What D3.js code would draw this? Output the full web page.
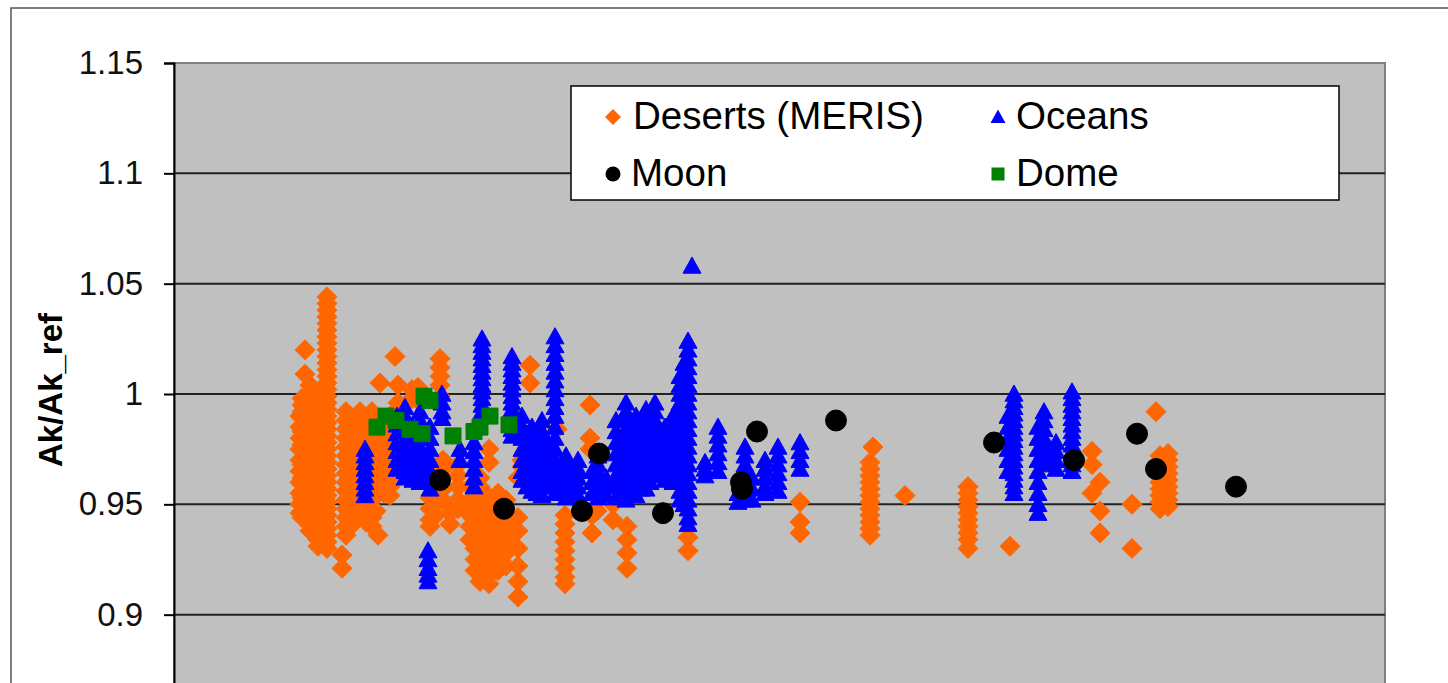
<!DOCTYPE html>
<html>
<head>
<meta charset="utf-8">
<script src="https://cdn.jsdelivr.net/npm/d3@7"></script>
<style>
  html, body { margin: 0; padding: 0; background: #fff; overflow: hidden; }
  svg { display: block; font-family: "Liberation Sans", Arial, sans-serif; }
</style>
</head>
<body>
<svg id="chart" width="1448" height="683"></svg>
<script>
// ---- data -------------------------------------------------------------
// x: acquisition day, y: Ak/Ak_ref

const yTickValues = [0.9, 0.95, 1.0, 1.05, 1.1, 1.15];
const yTickLabels = ["0.9", "0.95", "1", "1.05", "1.1", "1.15"];

// Deserts (MERIS): [day, [ratios...]]
const desertCols = [
  [131, [1.020, 1.009]],
  [126, [0.990, 0.985, 0.980, 0.975, 0.970, 0.965, 0.960, 0.955, 0.950, 0.946]],
  [128, [0.998, 0.995, 0.992, 0.989, 0.986, 0.983, 0.980, 0.977, 0.974, 0.971, 0.968, 0.965, 0.962, 0.959, 0.956, 0.953, 0.950, 0.947, 0.944]],
  [136, [1.004, 1.001, 0.998, 0.995, 0.992, 0.989, 0.986, 0.983, 0.980, 0.977, 0.974, 0.971, 0.968, 0.965, 0.962, 0.959, 0.956, 0.953, 0.950, 0.947, 0.944, 0.941, 0.938]],
  [144, [1.000, 0.997, 0.994, 0.991, 0.988, 0.985, 0.982, 0.979, 0.976, 0.973, 0.970, 0.967, 0.964, 0.961, 0.958, 0.955, 0.952, 0.949, 0.946, 0.943, 0.940, 0.937, 0.934, 0.931]],
  [153, [1.044, 1.041, 1.038, 1.035, 1.032, 1.029, 1.026, 1.023, 1.020, 1.017, 1.014, 1.011, 1.008, 1.005, 1.002, 0.999, 0.996, 0.993, 0.990, 0.987, 0.984, 0.981, 0.978, 0.975, 0.972, 0.969, 0.966, 0.963, 0.960, 0.957, 0.954, 0.951, 0.948, 0.945, 0.942, 0.939, 0.936, 0.933, 0.930]],
  [168, [0.921, 0.927]],
  [172, [0.992, 0.988, 0.984, 0.980, 0.976, 0.972, 0.968, 0.964, 0.960, 0.956, 0.952, 0.948, 0.944, 0.940, 0.936]],
  [176, [0.984, 0.978, 0.972, 0.966, 0.960, 0.954, 0.948, 0.943]],
  [179, [0.986, 0.981, 0.976, 0.971, 0.966, 0.961, 0.956, 0.951, 0.946, 0.941]],
  [182, [0.990, 0.983, 0.975, 0.968, 0.962, 0.955, 0.949]],
  [186, [0.992, 0.988, 0.984, 0.980, 0.976, 0.972, 0.968, 0.964, 0.960, 0.956, 0.952, 0.948]],
  [192, [0.985, 0.980, 0.952, 0.947, 0.942]],
  [198, [0.992, 0.988, 0.984, 0.980, 0.976, 0.972, 0.968, 0.964, 0.960, 0.956, 0.952, 0.948, 0.944, 0.940]],
  [202, [0.982, 0.975, 0.968, 0.961, 0.954, 0.947]],
  [204, [0.936]],
  [206, [1.005]],
  [210, [0.984, 0.979, 0.974, 0.969, 0.964, 0.959, 0.955]],
  [221, [1.017]],
  [224, [1.004, 0.996]],
  [216, [0.990, 0.986, 0.982, 0.978, 0.974, 0.970, 0.966, 0.962, 0.958, 0.954]],
  [238, [1.002, 0.998, 0.975, 0.970]],
  [244, [1.003, 0.997]],
  [266, [1.016, 1.012, 1.008, 1.004, 0.999]],
  [256, [0.953, 0.948, 0.943, 0.940]],
  [262, [0.950, 0.945]],
  [269, [0.970, 0.966, 0.962, 0.957, 0.952]],
  [276, [0.946, 0.941]],
  [284, [0.968, 0.963, 0.958, 0.952, 0.948]],
  [296, [0.958, 0.952, 0.945, 0.940, 0.934]],
  [301, [0.930, 0.925, 0.920]],
  [306, [0.962, 0.958, 0.954, 0.950, 0.946, 0.942, 0.938, 0.934, 0.930, 0.926, 0.922, 0.918, 0.915]],
  [311, [0.955, 0.948, 0.941, 0.934, 0.927, 0.920]],
  [315, [0.975, 0.969, 0.950, 0.946, 0.942, 0.938, 0.934, 0.930, 0.926, 0.922, 0.918, 0.914]],
  [319, [0.952, 0.944, 0.936, 0.928, 0.921]],
  [324, [0.955, 0.950, 0.945, 0.940, 0.935, 0.930, 0.925, 0.920]],
  [328, [0.948, 0.940, 0.932, 0.924]],
  [332, [0.952, 0.946, 0.940, 0.934, 0.928, 0.922]],
  [344, [0.962, 0.944, 0.938, 0.930, 0.922, 0.915, 0.908]],
  [348, [0.970, 0.967]],
  [356, [1.013, 1.005]],
  [383, [0.984]],
  [391, [0.945, 0.941, 0.937, 0.933, 0.929, 0.925, 0.921, 0.917, 0.914]],
  [416, [0.995, 0.980, 0.975]],
  [418, [0.945, 0.937]],
  [423, [0.947]],
  [439, [0.943, 0.950]],
  [453, [0.940, 0.934, 0.928, 0.921]],
  [514, [0.935, 0.929]],
  [626, [0.951, 0.942, 0.937]],
  [699, [0.976]],
  [696, [0.969, 0.966, 0.963, 0.960, 0.957, 0.954, 0.951, 0.948, 0.945, 0.942, 0.939, 0.936]],
  [731, [0.954]],
  [794, [0.958, 0.955, 0.952, 0.949, 0.946, 0.943, 0.940, 0.937, 0.934, 0.930]],
  [836, [0.931]],
  [918, [0.974, 0.968, 0.955]],
  [926, [0.960, 0.947, 0.937]],
  [958, [0.950, 0.930]],
  [982, [0.992]],
  [986, [0.972, 0.969, 0.966, 0.963, 0.960, 0.957, 0.954, 0.951, 0.948]],
  [994, [0.973, 0.970, 0.967, 0.964, 0.961, 0.958, 0.955, 0.952, 0.949]]
];

// Oceans: [day, [ratios...]]
const oceanCols = [
  [191, [0.975, 0.972, 0.969, 0.966, 0.963, 0.960, 0.957, 0.954]],
  [254, [0.929, 0.925, 0.921, 0.918, 0.915]],
  [223, [0.990, 0.986, 0.982, 0.978, 0.974, 0.970, 0.966]],
  [231, [0.994, 0.990, 0.985, 0.980, 0.975, 0.970, 0.965, 0.962]],
  [239, [0.985, 0.980, 0.975, 0.970, 0.965, 0.961]],
  [246, [0.992, 0.988, 0.984, 0.980, 0.976, 0.972, 0.968, 0.964, 0.960]],
  [256, [0.985, 0.980, 0.975, 0.970, 0.965, 0.960, 0.957]],
  [268, [1.000, 0.996, 0.992, 0.989]],
  [286, [0.975, 0.970]],
  [300, [0.978, 0.974, 0.970, 0.966, 0.962, 0.958]],
  [308, [1.025, 1.022, 1.019, 1.016, 1.013, 1.010, 1.007, 1.004, 1.001, 0.998, 0.995, 0.992]],
  [338, [1.017, 1.014, 1.011, 1.008, 1.005, 1.002, 0.999, 0.996, 0.993, 0.990, 0.987, 0.984, 0.981]],
  [348, [0.990, 0.985, 0.980, 0.975, 0.970, 0.965, 0.961]],
  [353, [0.982, 0.977, 0.972, 0.967, 0.962, 0.958]],
  [358, [0.985, 0.980, 0.975, 0.970, 0.965, 0.960, 0.956]],
  [363, [0.980, 0.975, 0.970, 0.965, 0.960, 0.955]],
  [368, [0.988, 0.983, 0.978, 0.973, 0.968, 0.963, 0.958, 0.954]],
  [374, [0.978, 0.973, 0.968, 0.963, 0.958]],
  [381, [1.026, 1.022, 1.018, 1.014, 1.010, 1.006, 1.002, 0.998, 0.994, 0.990, 0.985, 0.980, 0.975, 0.970, 0.965, 0.960, 0.955]],
  [387, [0.968, 0.963, 0.958]],
  [392, [0.972, 0.968, 0.964, 0.960, 0.956, 0.953]],
  [398, [0.962, 0.957]],
  [404, [0.970, 0.966, 0.962, 0.958, 0.954]],
  [418, [0.965, 0.960, 0.955]],
  [424, [0.972, 0.968, 0.964, 0.960, 0.956, 0.953]],
  [432, [0.962, 0.958, 0.954]],
  [442, [0.988, 0.983, 0.978, 0.973, 0.968, 0.963, 0.958, 0.953]],
  [447, [0.980, 0.975, 0.970, 0.965, 0.960, 0.955]],
  [452, [0.996, 0.992, 0.988, 0.984, 0.980, 0.976, 0.972, 0.968, 0.964, 0.960, 0.956, 0.952]],
  [457, [0.985, 0.980, 0.975, 0.970, 0.965, 0.960, 0.955]],
  [462, [0.990, 0.986, 0.982, 0.978, 0.974, 0.970, 0.966, 0.962, 0.958, 0.954]],
  [467, [0.982, 0.977, 0.972, 0.967, 0.962, 0.957]],
  [472, [0.993, 0.989, 0.985, 0.981, 0.977, 0.973, 0.969, 0.965, 0.961, 0.957]],
  [476, [0.985, 0.980, 0.975, 0.970, 0.965, 0.960]],
  [481, [0.996, 0.992, 0.988, 0.984, 0.980, 0.976, 0.972, 0.968, 0.964]],
  [486, [0.978, 0.973, 0.968, 0.963]],
  [491, [0.985, 0.981, 0.977, 0.973, 0.969, 0.965, 0.961]],
  [499, [0.990, 0.985, 0.980, 0.975, 0.970, 0.965, 0.960]],
  [506, [1.008, 1.004, 1.000, 0.996, 0.992, 0.988, 0.984, 0.980, 0.976, 0.972, 0.968, 0.964, 0.960, 0.956, 0.952]],
  [510, [1.014, 1.010, 1.000, 0.990, 0.980, 0.970, 0.960, 0.950]],
  [514, [1.024, 1.020, 1.016, 1.012, 1.008, 1.004, 1.000, 0.996, 0.992, 0.988, 0.984, 0.980, 0.976, 0.972, 0.968, 0.964, 0.960, 0.956, 0.952, 0.948, 0.944, 0.941]],
  [518, [1.058]],
  [531, [0.969, 0.966, 0.963]],
  [544, [0.985, 0.981, 0.977, 0.973, 0.969, 0.965]],
  [571, [0.976, 0.972, 0.968, 0.964, 0.960, 0.956, 0.952]],
  [564, [0.955, 0.951]],
  [578, [0.962, 0.957, 0.952]],
  [591, [0.970, 0.966, 0.962, 0.958, 0.955]],
  [604, [0.976, 0.972, 0.968, 0.964, 0.960, 0.956]],
  [626, [0.978, 0.974, 0.970, 0.966]],
  [834, [0.990, 0.985, 0.980, 0.975, 0.970, 0.965]],
  [840, [1.000, 0.997, 0.994, 0.991, 0.988, 0.985, 0.982, 0.979, 0.976, 0.973, 0.970, 0.967, 0.964, 0.961, 0.958, 0.955]],
  [864, [0.985, 0.980, 0.975, 0.970, 0.965, 0.960, 0.955, 0.950, 0.946]],
  [870, [0.992, 0.988, 0.984, 0.980, 0.976, 0.972, 0.968]],
  [882, [0.978, 0.974, 0.970, 0.966]],
  [898, [1.001, 0.998, 0.995, 0.992, 0.989, 0.986, 0.983, 0.980, 0.977, 0.974, 0.971, 0.968, 0.965]]
];

// Moon: [day, ratio]
const moonPoints = [
  [266, 0.961], [330, 0.948], [408, 0.947], [425, 0.973], [489, 0.946],
  [567, 0.960], [568, 0.957], [583, 0.983], [662, 0.988], [820, 0.978],
  [900, 0.970], [963, 0.982], [982, 0.966], [1062, 0.958]
];

// Dome: [day, ratio]
const domePoints = [
  [203, 0.985], [212, 0.990], [222, 0.988], [236, 0.984], [248, 0.982],
  [250, 0.999], [256, 0.997], [279, 0.981], [300, 0.983], [306, 0.985],
  [316, 0.990], [335, 0.986]
];

const seriesNames = ["Deserts (MERIS)", "Oceans", "Moon", "Dome"];
const seriesColors = ["#FF6600", "#0000FF", "#000000", "#008000"];

// ---- layout -----------------------------------------------------------
const plot = { left: 174, top: 63, right: 1385, bottom: 725 };

const svg = d3.select("#chart");

const x = d3.scaleLinear().domain([0, 1211]).range([plot.left, plot.right]);
const y = d3.scaleLinear().domain([0.85, 1.15]).range([plot.bottom, plot.top]);

// marker shapes (size = half-width in px)
const diamond = { draw(ctx, s) { ctx.moveTo(0, -s); ctx.lineTo(s, 0); ctx.lineTo(0, s); ctx.lineTo(-s, 0); ctx.closePath(); } };
const triangle = { draw(ctx, s) { ctx.moveTo(0, -s); ctx.lineTo(s, s * 0.8); ctx.lineTo(-s, s * 0.8); ctx.closePath(); } };
const square = { draw(ctx, s) { ctx.rect(-s, -s, 2 * s, 2 * s); } };
const circle = { draw(ctx, s) { ctx.moveTo(s, 0); ctx.arc(0, 0, s, 0, 2 * Math.PI); } };

// outer chart frame
svg.append("rect")
  .attr("x", 11).attr("y", 8).attr("width", 1460).attr("height", 720)
  .attr("fill", "#fff").attr("stroke", "#555").attr("stroke-width", 1.5);

// plot background
svg.append("rect")
  .attr("x", plot.left).attr("y", plot.top)
  .attr("width", plot.right - plot.left).attr("height", plot.bottom - plot.top)
  .attr("fill", "#C0C0C0").attr("stroke", "#808080").attr("stroke-width", 2);

// horizontal gridlines
svg.append("g")
  .selectAll("line")
  .data(yTickValues.filter(v => v < 1.15))
  .join("line")
  .attr("x1", plot.left).attr("x2", plot.right)
  .attr("y1", d => y(d)).attr("y2", d => y(d))
  .attr("stroke", "#222").attr("stroke-width", 2);

// y axis
const yAxis = d3.axisLeft(y)
  .tickValues(yTickValues)
  .tickFormat((d, i) => yTickLabels[i])
  .tickSize(10)
  .tickPadding(21);

const gy = svg.append("g")
  .attr("transform", `translate(${plot.left},0)`)
  .call(yAxis);
gy.select(".domain").attr("stroke", "#000").attr("stroke-width", 2);
gy.selectAll(".tick line").attr("stroke", "#000").attr("stroke-width", 2);
gy.selectAll(".tick text")
  .attr("font-size", 33)
  .attr("fill", "#111")
  .attr("font-family", "Liberation Sans, Arial, sans-serif");

// y axis title
svg.append("text")
  .attr("transform", `translate(62,${(plot.top + plot.bottom) / 2 - 4}) rotate(-90)`)
  .attr("text-anchor", "middle")
  .attr("font-size", 33)
  .attr("font-weight", "bold")
  .text("Ak/Ak_ref");

// ---- marks ------------------------------------------------------------
const flatten = cols => cols.flatMap(([d, vals]) => vals.map(v => [d, v]));

const marks = svg.append("g");

function drawSeries(points, type, size, color) {
  marks.append("g")
    .selectAll("path")
    .data(points)
    .join("path")
    .attr("transform", d => `translate(${x(d[0])},${y(d[1])})`)
    .attr("d", d3.symbol().type(type).size(size))
    .attr("fill", color)
    .attr("stroke", color)
    .attr("stroke-width", 1);
}

drawSeries(flatten(desertCols), diamond, 10, seriesColors[0]);
drawSeries(flatten(oceanCols), triangle, 9, seriesColors[1]);
drawSeries(moonPoints, circle, 10.5, seriesColors[2]);
drawSeries(domePoints, square, 8, seriesColors[3]);

// ---- legend -----------------------------------------------------------
const legend = svg.append("g");
legend.append("rect")
  .attr("x", 571).attr("y", 86).attr("width", 768).attr("height", 114)
  .attr("fill", "#fff").attr("stroke", "#000").attr("stroke-width", 1.5);

const legendItems = [
  { name: seriesNames[0], type: diamond, size: 8, color: seriesColors[0], mx: 613, tx: 633, cy: 116 },
  { name: seriesNames[1], type: triangle, size: 7.5, color: seriesColors[1], mx: 998, tx: 1016, cy: 116 },
  { name: seriesNames[2], type: circle, size: 7.5, color: seriesColors[2], mx: 613, tx: 631, cy: 173 },
  { name: seriesNames[3], type: square, size: 6.5, color: seriesColors[3], mx: 998, tx: 1016, cy: 173 }
];

const li = legend.selectAll("g.item").data(legendItems).join("g").attr("class", "item");
li.append("path")
  .attr("transform", d => `translate(${d.mx},${d.cy + 1})`)
  .attr("d", d => d3.symbol().type(d.type).size(d.size)())
  .attr("fill", d => d.color);
li.append("text")
  .attr("x", d => d.tx)
  .attr("y", d => d.cy + 13)
  .attr("font-size", 38.5)
  .attr("fill", "#000")
  .text(d => d.name);
</script>
</body>
</html>
